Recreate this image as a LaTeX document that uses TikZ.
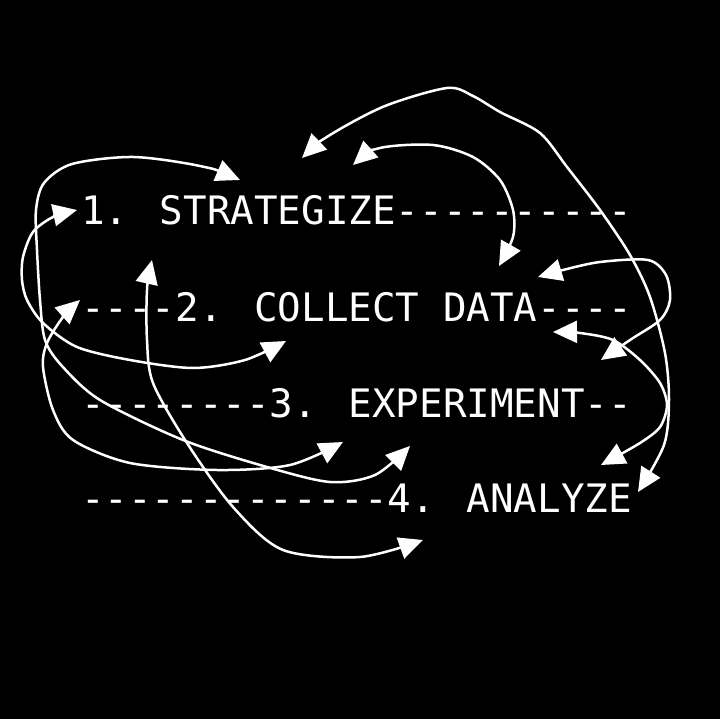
\documentclass[tikz,border=0pt]{standalone}
\usepackage{fontspec}
\newfontfamily\monof{DejaVu Sans Mono}
\usetikzlibrary{arrows.meta}
\begin{document}
\begin{tikzpicture}[x=1pt,y=-1pt,
  lbl/.style={anchor=base west, inner sep=0pt, text=white, font=\monof\fontsize{39.2}{41}\selectfont},
  loopline/.style={draw=white, line width=2.5pt, line cap=round, line join=round},
  >={Triangle[length=24pt,width=22pt]}]
\fill[black] (0,0) rectangle (720,719);
\useasboundingbox (0,0) rectangle (720,719);
% text lines
\node[lbl] (s1) at (81,225) {1. STRATEGIZE----------};
\node[lbl] (s2) at (81,321) {----2. COLLECT DATA----};
\node[lbl] (s3) at (81,417) {--------3. EXPERIMENT--};
\node[lbl] (s4) at (81,512) {-------------4. ANALYZE};
% arrow tips
\coordinate (a1) at (240,180);
\coordinate (a2) at (410,446);
\coordinate (b1) at (77,210);
\coordinate (b2) at (286,341);
\coordinate (c1) at (80,300);
\coordinate (c2) at (343,442);
\coordinate (d1) at (152,260);
\coordinate (d2) at (423,540);
\coordinate (e1) at (302,158);
\coordinate (e2) at (638,492);
\coordinate (f1) at (353,165);
\coordinate (f2) at (499,266);
\coordinate (g1) at (538,277);
\coordinate (g2) at (601,360);
\coordinate (h1) at (553,332);
\coordinate (h2) at (601,465);
% curves
\draw[loopline,<->] plot[smooth] coordinates {(a1) (200,166) (133,157) (72,164) (44,183) (36,210) (37,250) (40,300) (45,340) (62,366) (100,400) (183,440) (267,467) (330,482) (375,475) (a2)};
\draw[loopline,<->] plot[smooth] coordinates {(b1) (53,217) (33,232) (23,257) (22,280) (27,300) (43,323) (77,347) (130,360) (193,368) (245,360) (b2)};
\draw[loopline,<->] plot[smooth] coordinates {(c1) (63,317) (47,343) (43,367) (53,410) (73,440) (130,463) (217,470) (290,465) (c2)};
\draw[loopline,<->] plot[smooth] coordinates {(d1) (147,290) (147,340) (153,383) (187,443) (233,507) (283,550) (360,557) (d2)};
\draw[loopline,<->] plot[smooth] coordinates {(e1) (330,135) (385,106) (447,88) (473,96) (500,112) (540,133) (567,167) (600,210) (630,255) (650,297) (665,353) (669,400) (664,445) (e2)};
\draw[loopline,<->] plot[smooth] coordinates {(f1) (380,148) (433,145) (473,157) (500,180) (513,210) (513,237) (f2)};
\draw[loopline,<->] plot[smooth] coordinates {(g1) (563,270) (600,262) (648,260) (666,275) (670,300) (660,320) (630,340) (g2)};
\draw[loopline,<->] plot[smooth] coordinates {(h1) (580,333) (613,340) (640,360) (660,383) (667,405) (660,427) (640,443) (h2)};
\end{tikzpicture}
\end{document}
